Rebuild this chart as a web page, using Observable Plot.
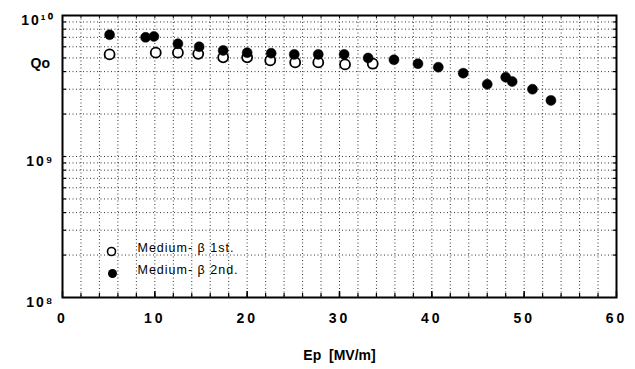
<!DOCTYPE html>
<html>
<head>
<meta charset="utf-8">
<script src="https://cdn.jsdelivr.net/npm/d3@7"></script>
<script src="https://cdn.jsdelivr.net/npm/@observablehq/plot@0.6"></script>
<style>
  html, body { margin: 0; padding: 0; background: #fff; }
  #chart svg { display: block; }
  g[aria-label="x-axis tick label"] text { letter-spacing: 3px; }
  g[aria-label="y-axis tick label"] text { letter-spacing: 2px; }
  g[aria-label="text"] text.legend { letter-spacing: 1px; }
</style>
</head>
<body>
<div id="chart"></div>
<script>
// Medium-β 1st (open circles)
const ep1 = [5.1, 10.1, 12.5, 14.7, 17.4, 20.0, 22.5, 25.2, 27.7, 30.6, 33.6];
const q1  = [5.3e9, 5.45e9, 5.45e9, 5.35e9, 5.05e9, 5.05e9, 4.8e9, 4.65e9, 4.65e9, 4.5e9, 4.55e9];
// Medium-β 2nd (filled)
const ep2 = [5.1, 9.0, 9.9, 12.5, 14.8, 17.4, 20.0, 22.6, 25.1, 27.7, 30.5, 33.1, 35.9, 38.5, 40.7, 43.4, 46.0, 48.0, 48.7, 50.9, 52.9];
const q2  = [7.3e9, 7.0e9, 7.1e9, 6.3e9, 6.0e9, 5.65e9, 5.45e9, 5.4e9, 5.3e9, 5.3e9, 5.3e9, 5.0e9, 4.85e9, 4.55e9, 4.3e9, 3.9e9, 3.25e9, 3.65e9, 3.4e9, 3.0e9, 2.5e9];

const xTicks = [0, 10, 20, 30, 40, 50, 60];
const xMinor = d3.range(2, 60, 2);
const yTicks = [1e8, 1e9, 1e10];
const yTickLabels = ["10⁸", "10⁹", "10¹⁰"];
const yMinor = [2e8,3e8,4e8,5e8,6e8,7e8,8e8,9e8,1e9,2e9,3e9,4e9,5e9,6e9,7e9,8e9,9e9];
const legendLabels = ["Medium- β 1st.", "Medium- β 2nd."];

const s1 = ep1.map((x, i) => ({x, q: q1[i]}));
const s2 = ep2.map((x, i) => ({x, q: q2[i]}));

const font = "Liberation Sans, Arial, sans-serif";

const plot = Plot.plot({
  width: 635,
  height: 369,
  marginLeft: 62,
  marginRight: 19,
  marginTop: 15,
  marginBottom: 72,
  style: {fontFamily: font, background: "#fff", color: "#000"},
  x: {domain: [0, 60], label: null},
  y: {type: "log", domain: [1e8, 1e10], label: null},
  marks: [
    Plot.gridX({ticks: xMinor, stroke: "#000", strokeOpacity: 0.8, strokeDasharray: "1,2.5", strokeWidth: 1}),
    Plot.gridY({ticks: yMinor, stroke: "#000", strokeOpacity: 0.8, strokeDasharray: "1,2.5", strokeWidth: 1}),
    Plot.axisX({ticks: xMinor, tickSize: -4, tickFormat: () => "", strokeWidth: 1.2, label: null}),
    Plot.axisX({ticks: xTicks, tickSize: -6, tickPadding: 22, tickFormat: d => String(d), fontSize: 14, fontWeight: "bold", strokeWidth: 1.5, label: null}),
    Plot.axisY({ticks: yMinor, tickSize: -4, tickFormat: () => "", strokeWidth: 1.2, label: null}),
    Plot.axisY({anchor: "right", ticks: yMinor, tickSize: -4, tickFormat: () => "", strokeWidth: 1.2, label: null}),
    Plot.axisY({ticks: yTicks, tickSize: 0, tickPadding: 8, dy: 5, fontSize: 14, fontWeight: "bold", label: null,
      tickFormat: d => yTickLabels[yTicks.indexOf(d)]}),
    Plot.axisX({anchor: "top", ticks: xMinor, tickSize: -2, tickFormat: () => "", strokeWidth: 1, label: null}),
    Plot.frame({stroke: "#000", strokeWidth: 2}),
    Plot.dot(s1, {x: "x", y: "q", r: 5, stroke: "#000", strokeWidth: 1.8, fill: "#fff"}),
    Plot.dot(s2, {x: "x", y: "q", r: 5, fill: "#000", stroke: "#000", strokeWidth: 0.5}),
    // legend
    Plot.dot([0], {frameAnchor: "bottom-left", dx: 49, dy: -46, r: 4, stroke: "#000", strokeWidth: 1.6, fill: "#fff"}),
    Plot.dot([0], {frameAnchor: "bottom-left", dx: 50, dy: -24, r: 4.5, fill: "#000"}),
    Plot.text([legendLabels[0]], {text: d => d, frameAnchor: "bottom-left", dx: 75, dy: -46, textAnchor: "start", fontSize: 12.5, className: "legend"}),
    Plot.text([legendLabels[1]], {text: d => d, frameAnchor: "bottom-left", dx: 75, dy: -24, textAnchor: "start", fontSize: 12.5, className: "legend"}),
    // axis titles
    Plot.text(["Qo"], {text: d => d, frameAnchor: "top-left", dx: -32, dy: 43, fontSize: 14, fontWeight: "bold"}),
    Plot.text(["Ep  [MV/m]"], {text: d => d, frameAnchor: "bottom", dy: 62, fontSize: 14, fontWeight: "bold"})
  ]
});
plot.querySelectorAll("text").forEach(t => {
  if (legendLabels.includes(t.textContent)) t.style.letterSpacing = "1px";
});
document.getElementById("chart").appendChild(plot);
</script>
</body>
</html>
